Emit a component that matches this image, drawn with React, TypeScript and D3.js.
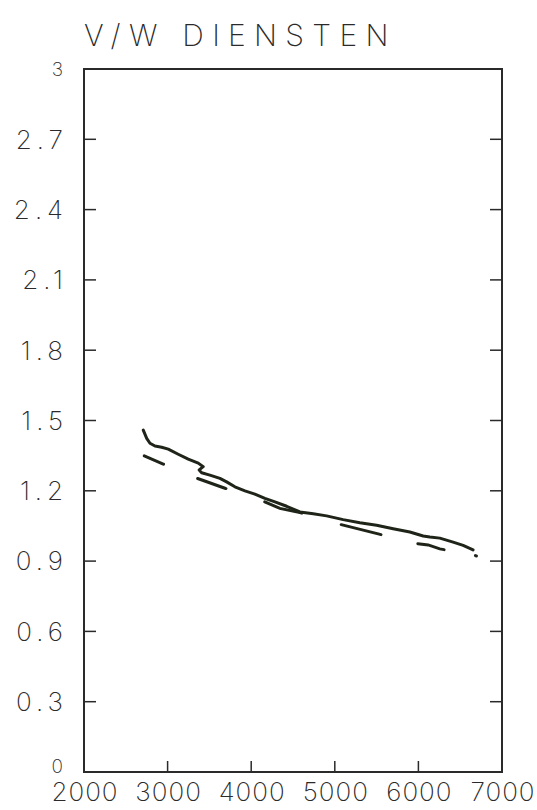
import React from "react";
import * as d3 from "d3";

const title = "V/W DIENSTEN";
const xTicks = [2000, 3000, 4000, 5000, 6000, 7000];
const yTicks = [0, 0.3, 0.6, 0.9, 1.2, 1.5, 1.8, 2.1, 2.4, 2.7, 3];
const yTickLabels = ["0", "0.3", "0.6", "0.9", "1.2", "1.5", "1.8", "2.1", "2.4", "2.7", "3"];

// solid series (x, y)
const solidX = [2709, 2750, 2789, 2849, 2929, 3008, 3127, 3247, 3367, 3426, 3378, 3407, 3506, 3626, 3706, 3805, 3925, 4044, 4164, 4284, 4424, 4583, 4742, 4902, 5100, 5300, 5500, 5698, 5898, 6057, 6137, 6256, 6415, 6535, 6654];
const solidY = [1.459, 1.424, 1.403, 1.391, 1.386, 1.378, 1.356, 1.335, 1.318, 1.303, 1.289, 1.277, 1.267, 1.253, 1.238, 1.217, 1.2, 1.186, 1.168, 1.153, 1.134, 1.11, 1.102, 1.093, 1.077, 1.064, 1.053, 1.038, 1.024, 1.007, 1.003, 0.998, 0.981, 0.967, 0.948];

// dashed series (x, y)
const dashedX = [2721, 2948, 3355, 3686, 4144, 4343, 4583, 5049, 5519, 5957, 6117, 6256, 6623, 6694];
const dashedY = [1.349, 1.314, 1.253, 1.211, 1.156, 1.125, 1.107, 1.058, 1.016, 0.976, 0.969, 0.952, 0.93, 0.922];

const W = 537, H = 810;
const L = 84, R = 502, T = 69, B = 772;

export default function App() {
  const x = d3.scaleLinear().domain([2000, 7000]).range([L, R]);
  const y = d3.scaleLinear().domain([0, 3]).range([B, T]);
  const line = d3.line<[number, number]>().x(d => x(d[0])).y(d => y(d[1]));
  const solid = solidX.map((v, i) => [v, solidY[i]] as [number, number]);
  const dashed = dashedX.map((v, i) => [v, dashedY[i]] as [number, number]);
  const font = "Inter, Roboto, 'DejaVu Sans', sans-serif";
  const ink = "#2a2a2a";
  return (
    <svg width={W} height={H} style={{ position: "absolute", left: 0, top: 0, background: "#fff" }}>
      <rect width={W} height={H} fill="#fff" />
      <text x={L} y={46} fontFamily={font} fontWeight={200} fontSize={30} letterSpacing={8.3} fill={ink}>{title}</text>
      <rect x={L} y={T} width={R - L} height={B - T} fill="none" stroke={ink} strokeWidth={2} />
      {yTicks.slice(1, -1).map(t => (
        <g key={"yt" + t}>
          <line x1={L} x2={L + 12} y1={y(t)} y2={y(t)} stroke={ink} strokeWidth={1.5} />
          <line x1={R} x2={R - 12} y1={y(t)} y2={y(t)} stroke={ink} strokeWidth={1.5} />
        </g>
      ))}
      {xTicks.slice(1, -1).map(t => (
        <line key={"xt" + t} x1={x(t)} x2={x(t)} y1={B} y2={B - 11} stroke={ink} strokeWidth={1.5} />
      ))}
      {yTicks.map((t, i) => {
        const edge = i === 0 || i === yTicks.length - 1;
        return (
          <text key={"yl" + t} x={edge ? 63 : 68} y={y(t) - (i === 0 ? 6 : 0)} dy="0.36em" textAnchor="end" fontFamily={font} fontWeight={200} fontSize={edge ? 19 : 26} letterSpacing={edge ? 0 : 5} fill={ink}>{yTickLabels[i]}</text>
        );
      })}
      {xTicks.map(t => (
        <text key={"xl" + t} x={x(t) + 1} y={801} textAnchor="middle" fontFamily={font} fontWeight={200} fontSize={26} letterSpacing={1} fill={ink}>{t}</text>
      ))}
      <path d={line(solid) || ""} fill="none" stroke="#1f2419" strokeWidth={3} strokeLinejoin="round" strokeLinecap="round" />
      <path d={line(dashed) || ""} fill="none" stroke="#1f2419" strokeWidth={3} strokeLinecap="round" strokeDasharray="21 37 30 41 39 41 41 38 27 32 10 100" />
    </svg>
  );
}
